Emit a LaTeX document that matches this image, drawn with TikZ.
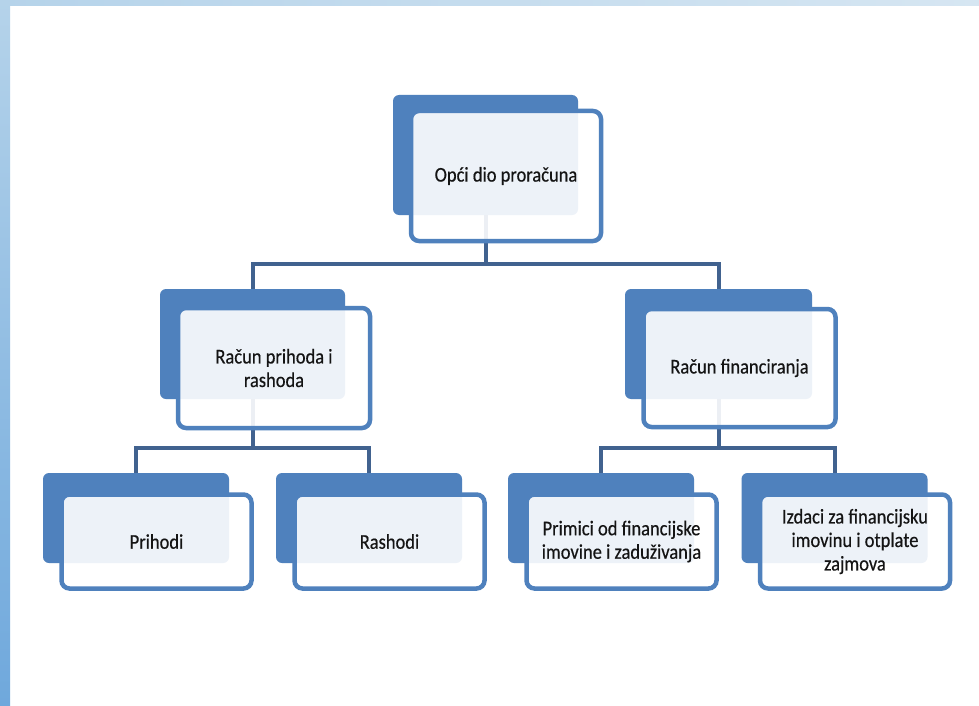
\documentclass[tikz,border=0pt]{standalone}
\usepackage{fontspec}
\setmainfont{Carlito}[FakeStretch=0.88,FakeBold=0.4]
\definecolor{boxblue}{HTML}{4F81BD}
\definecolor{connblue}{HTML}{41628F}
\definecolor{textcol}{HTML}{141414}
\definecolor{stripTL}{HTML}{B5D3EA}
\definecolor{stripTR}{HTML}{D6E6F2}
\definecolor{stripBL}{HTML}{6FA8DC}
\begin{document}
\begin{tikzpicture}[x=1pt,y=-1pt,
  backbox/.style={fill=boxblue, rounded corners=6pt, inner sep=0pt, draw=none},
  frontbox/.style={draw=boxblue, line width=4.5pt, fill=white, fill opacity=0.9, text opacity=1,
    rounded corners=8pt, inner sep=0pt, align=center, text=textcol,
    font=\fontsize{21}{23.5}\selectfont},
  conn/.style={draw=connblue, line width=4pt}]
\useasboundingbox (0,0) rectangle (979,706);
\fill[white] (0,0) rectangle (979,706);
\shade[top color=stripTL, bottom color=stripBL] (0,0) rectangle (10,706);
\shade[left color=stripTL, right color=stripTR] (0,0) rectangle (979,6);

% back boxes
\node[backbox, minimum width=185pt, minimum height=120pt] (b0) at (485.5,155) {};
\node[backbox, minimum width=185pt, minimum height=110pt] (b1) at (252.5,344) {};
\node[backbox, minimum width=187pt, minimum height=110pt] (b2) at (718.5,344) {};
\node[backbox, minimum width=186pt, minimum height=90pt] (b3) at (136,518) {};
\node[backbox, minimum width=186pt, minimum height=90pt] (b4) at (369,518) {};
\node[backbox, minimum width=186pt, minimum height=90pt] (b5) at (601,518) {};
\node[backbox, minimum width=186pt, minimum height=90pt] (b6) at (834.5,518) {};

% connectors
\coordinate (j0) at (0,264);
\coordinate (j1) at (0,448);
\draw[conn] (b0.south) -- (b0.south |- j0) -| (b1.north);
\draw[conn] (b0.south |- j0) -| (b2.north);
\draw[conn] (b1.south) -- (b1.south |- j1) -| (b3.north);
\draw[conn] (b1.south |- j1) -| (b4.north);
\draw[conn] (b2.south) -- (b2.south |- j1) -| (b5.north);
\draw[conn] (b2.south |- j1) -| (b6.north);

% front boxes
\node[frontbox, minimum width=190pt, minimum height=130pt] (f0) at (506,176) {Opći dio proračuna};
\node[frontbox, minimum width=192pt, minimum height=120pt] (f1) at (274,368) {Račun prihoda i\\rashoda};
\node[frontbox, minimum width=192pt, minimum height=118pt] (f2) at (739.5,368) {Račun financiranja};
\node[frontbox, minimum width=190pt, minimum height=94pt] (f3) at (156.5,541.5) {Prihodi};
\node[frontbox, minimum width=190pt, minimum height=94pt] (f4) at (389.5,541.5) {Rashodi};
\node[frontbox, minimum width=190pt, minimum height=94pt] (f5) at (621.5,541.5) {Primici od financijske\\imovine i zaduživanja};
\node[frontbox, minimum width=190pt, minimum height=94pt] (f6) at (855,541.5) {Izdaci za financijsku\\imovinu i otplate\\zajmova};
\end{tikzpicture}
\end{document}
